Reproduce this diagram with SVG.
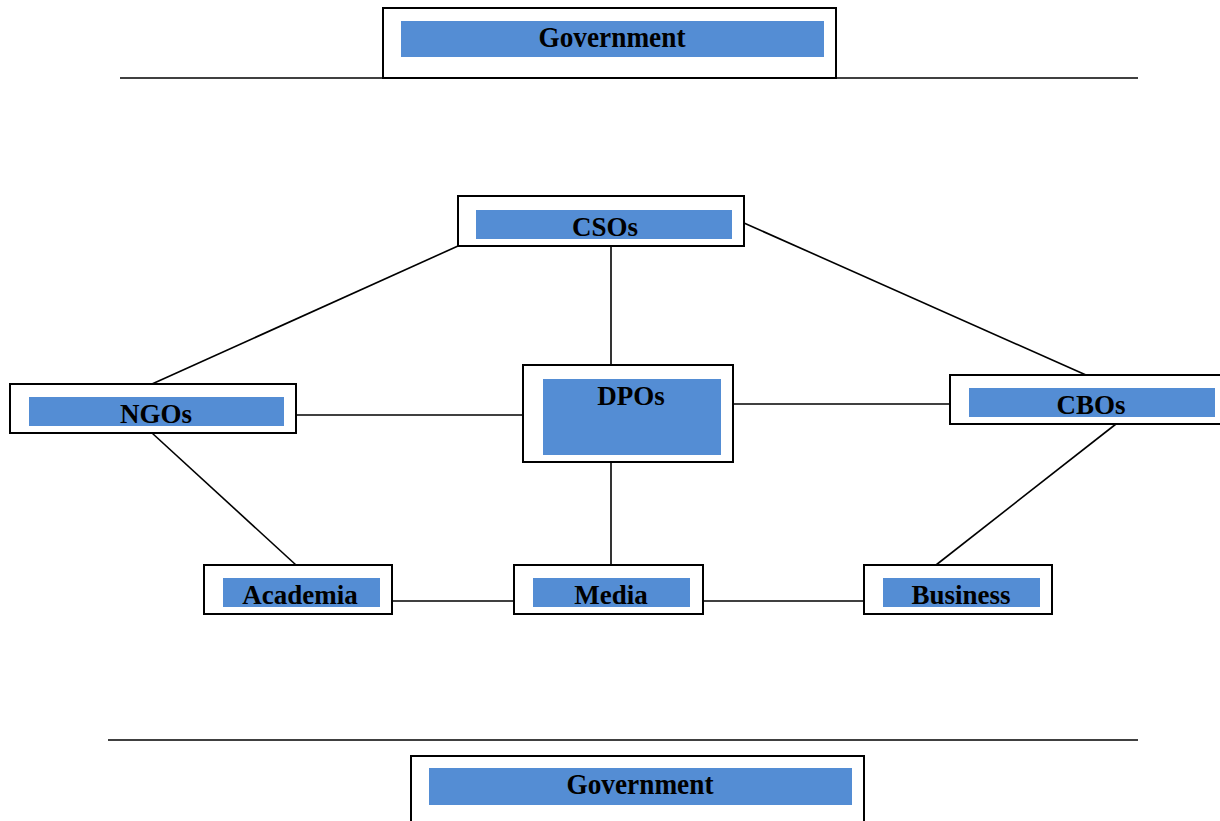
<svg xmlns="http://www.w3.org/2000/svg" width="1220" height="821" viewBox="0 0 1220 821">
<style>
.box{fill:#fff;stroke:#000;stroke-width:2}
.in{fill:#548DD4}
.t{font-family:"Liberation Serif","Times New Roman",serif;font-weight:bold;font-size:27px;fill:#000;text-anchor:middle}
.g{font-size:29px}
.c line{stroke:#000;stroke-width:1.6}
</style>
<rect width="1220" height="821" fill="#fff"/>
<g class="c" id="connectors">
<line x1="120" y1="78" x2="1138" y2="78"/>
<line x1="108" y1="740" x2="1138" y2="740"/>
<line x1="458" y1="246" x2="152" y2="384"/>
<line x1="611" y1="246" x2="611" y2="365"/>
<line x1="744" y1="223" x2="1086" y2="375"/>
<line x1="296" y1="415" x2="523" y2="415"/>
<line x1="733" y1="404" x2="950" y2="404"/>
<line x1="152" y1="433" x2="296" y2="565"/>
<line x1="611" y1="462" x2="611" y2="565"/>
<line x1="1116" y1="424" x2="936" y2="565"/>
<line x1="392" y1="601" x2="514" y2="601"/>
<line x1="703" y1="601" x2="864" y2="601"/>
</g>
<g id="gov-top">
<rect class="box" x="383" y="8" width="453" height="70"/>
<rect class="in" x="401" y="21" width="423" height="36"/>
<text class="t g" x="612" y="47" textLength="147" lengthAdjust="spacingAndGlyphs">Government</text>
</g>
<g id="csos">
<rect class="box" x="458" y="196" width="286" height="50"/>
<rect class="in" x="476" y="210" width="256" height="29"/>
<text class="t" x="605" y="236">CSOs</text>
</g>
<g id="dpos">
<rect class="box" x="523" y="365" width="210" height="97"/>
<rect class="in" x="543" y="379" width="178" height="76"/>
<text class="t" x="631" y="405">DPOs</text>
</g>
<g id="ngos">
<rect class="box" x="10" y="384" width="286" height="49"/>
<rect class="in" x="29" y="397" width="255" height="29"/>
<text class="t" x="156" y="423">NGOs</text>
</g>
<g id="cbos">
<rect class="box" x="950" y="375" width="275" height="49"/>
<rect class="in" x="969" y="388" width="246" height="29"/>
<text class="t" x="1091" y="414">CBOs</text>
</g>
<g id="academia">
<rect class="box" x="204" y="565" width="188" height="49"/>
<rect class="in" x="223" y="578" width="157" height="29"/>
<text class="t" x="300" y="604">Academia</text>
</g>
<g id="media">
<rect class="box" x="514" y="565" width="189" height="49"/>
<rect class="in" x="533" y="578" width="157" height="29"/>
<text class="t" x="611" y="604">Media</text>
</g>
<g id="business">
<rect class="box" x="864" y="565" width="188" height="49"/>
<rect class="in" x="883" y="578" width="157" height="29"/>
<text class="t" x="961" y="604">Business</text>
</g>
<g id="gov-bottom">
<rect class="box" x="411" y="756" width="453" height="80"/>
<rect class="in" x="429" y="768" width="423" height="37"/>
<text class="t g" x="640" y="794" textLength="147" lengthAdjust="spacingAndGlyphs">Government</text>
</g>
</svg>
